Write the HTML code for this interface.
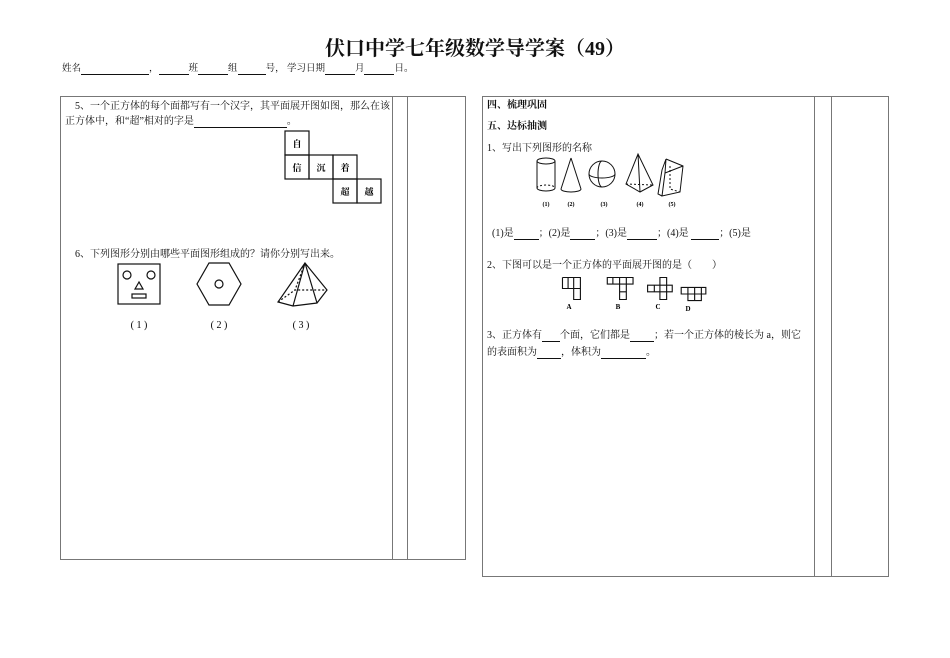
<!DOCTYPE html>
<html><head><meta charset="utf-8"><style>
body{margin:0;width:950px;height:658px;background:#fff;position:relative;overflow:hidden;font-family:"Liberation Serif","Noto Serif CJK SC",serif;color:#111}
.a{position:absolute;white-space:nowrap}
.s{font-size:10px}
.box{position:absolute;border:1px solid #777}
.v{position:absolute;width:0;border-left:1px solid #777}
u{text-decoration:none;border-bottom:1px solid #111;display:inline-block}
</style></head><body>
<div class="a" style="left:0;width:950px;text-align:center;top:32px;font-size:20px;font-weight:bold;font-family:'Liberation Serif','Noto Serif CJK SC',serif">伏口中学七年级数学导学案（49）</div>
<div class="a s" style="left:62px;top:60px;font-size:9.5px">姓名<u style="width:68px">&nbsp;</u>，<u style="width:30px">&nbsp;</u>班<u style="width:30px">&nbsp;</u>组<u style="width:28px">&nbsp;</u>号， 学习日期<u style="width:30px">&nbsp;</u>月<u style="width:30px">&nbsp;</u>日。</div>

<div class="box" style="left:60px;top:96px;width:404px;height:462px"></div>
<div class="v" style="left:392px;top:96px;height:463px"></div>
<div class="v" style="left:407px;top:96px;height:463px"></div>

<div class="box" style="left:482px;top:96px;width:405px;height:479px"></div>
<div class="v" style="left:814px;top:96px;height:480px"></div>
<div class="v" style="left:831px;top:96px;height:480px"></div>

<div class="a s" style="left:75px;top:97px">5、一个正方体的每个面都写有一个汉字，其平面展开图如图，那么在该</div>
<div class="a s" style="left:65px;top:112px">正方体中，和“超”相对的字是<u style="width:93px">&nbsp;</u>。</div>
<svg class="a" style="left:280px;top:128px" width="110" height="76">
<g fill="none" stroke="#111" stroke-width="1.2">
<rect x="5" y="3" width="24" height="24"/><rect x="5" y="27" width="24" height="24"/><rect x="29" y="27" width="24" height="24"/><rect x="53" y="27" width="24" height="24"/><rect x="53" y="51" width="24" height="24"/><rect x="77" y="51" width="24" height="24"/></g>
<g font-size="9" font-weight="bold" text-anchor="middle" font-family="Noto Serif CJK SC,serif"><text x="17" y="19">自</text><text x="17" y="43">信</text><text x="41" y="43">沉</text><text x="65" y="43">着</text><text x="65" y="67">超</text><text x="89" y="67">越</text></g></svg>

<div class="a s" style="left:75px;top:245px">6、下列图形分别由哪些平面图形组成的？请你分别写出来。</div>
<svg class="a" style="left:100px;top:260px" width="230" height="75">
<g fill="none" stroke="#111" stroke-width="1.2">
<rect x="18" y="4" width="42" height="40"/><circle cx="27" cy="15" r="4"/><circle cx="51" cy="15" r="4"/><path d="M39 22 L35 29 L43 29Z"/><rect x="32" y="34" width="14" height="4"/>
<path d="M109 3 L129 3 L141 24 L129 45 L109 45 L97 24Z"/><circle cx="119" cy="24" r="4"/>
<path d="M205 3 L178 42 L193 46 L217 43 L227 30 Z M205 3 L193 46 M205 3 L217 43"/><path d="M178 42 L195 30 L227 30 M205 3 L195 30" stroke-dasharray="2,2"/>
</g>
<g font-size="10" text-anchor="middle"><text x="39" y="68">( 1 )</text><text x="119" y="68">( 2 )</text><text x="201" y="68">( 3 )</text></g></svg>

<div class="a s" style="left:487px;top:96px;font-weight:bold">四、梳理巩固</div>
<div class="a s" style="left:487px;top:117px;font-weight:bold">五、达标抽测</div>
<div class="a s" style="left:487px;top:139px">1、写出下列图形的名称</div>
<svg class="a" style="left:525px;top:152px" width="170" height="62">
<g fill="none" stroke="#111" stroke-width="1">
<ellipse cx="21" cy="9" rx="9" ry="3"/><path d="M12 9 V36 M30 9 V36 M12 36 A9 3 0 0 0 30 36"/><path d="M12 36 A9 3 0 0 1 30 36" stroke-dasharray="2,2"/>
<path d="M46 6 L36 37 M46 6 L56 37 M36 37 A10 3 0 0 0 56 37"/>
<circle cx="77" cy="22" r="13"/><path d="M64 22 A13 4 0 0 0 90 22"/><path d="M77 9 A4 13 0 0 0 77 35"/>
<path d="M113 2 L101 32 L115 40 L128 33Z M113 2 L115 40"/><path d="M101 32 L128 33" stroke-dasharray="2,2"/>
<path d="M141 7 L158 14 L155 40 L137 44 L140 21 L158 14 M141 7 L140 21 M137 44 L133 42 L137 18 L141 7"/><path d="M145 14 V37 L155 40" stroke-dasharray="2,2"/>
</g>
<g font-size="6" text-anchor="middle" font-weight="bold"><text x="21" y="54">(1)</text><text x="46" y="54">(2)</text><text x="79" y="54">(3)</text><text x="115" y="54">(4)</text><text x="147" y="54">(5)</text></g></svg>
<div class="a s" style="left:492px;top:224px">(1)是<u style="width:25px">&nbsp;</u>；(2)是<u style="width:25px">&nbsp;</u>；(3)是<u style="width:30px">&nbsp;</u>；(4)是 <u style="width:28px">&nbsp;</u>；(5)是</div>
<div class="a s" style="left:487px;top:256px">2、下图可以是一个正方体的平面展开图的是（　　）</div>
<svg class="a" style="left:555px;top:272px" width="160" height="40">
<g fill="none" stroke="#111" stroke-width="1" transform="translate(3,0) scale(1.12,1.1)">
<path d="M4 5 H20 V25 H14 V5 M4 5 V15 H20 M9 5 V15 M14 15 V25"/>
<path d="M44 5 H67 V11 H44Z M49 5 V11 M55 5 V25 H61 V5 M55 18 H61"/>
<path d="M80 12 H102 V18 H80Z M86 12 V18 M91 5 H97 V25 H91Z"/>
<path d="M110 14 H132 V20 H110Z M116 14 V26 H128 V14 M122 14 V26 M116 20 H128"/>
</g>
<g font-size="7" font-weight="bold" text-anchor="middle"><text x="14" y="37">A</text><text x="63" y="37">B</text><text x="103" y="37">C</text><text x="133" y="39">D</text></g></svg>
<div class="a s" style="left:487px;top:326px">3、正方体有<u style="width:18px">&nbsp;</u>个面，它们都是<u style="width:24px">&nbsp;</u>；若一个正方体的棱长为 a，则它</div>
<div class="a s" style="left:487px;top:343px">的表面积为<u style="width:24px">&nbsp;</u>，体积为<u style="width:45px">&nbsp;</u>。</div>
</body></html>
